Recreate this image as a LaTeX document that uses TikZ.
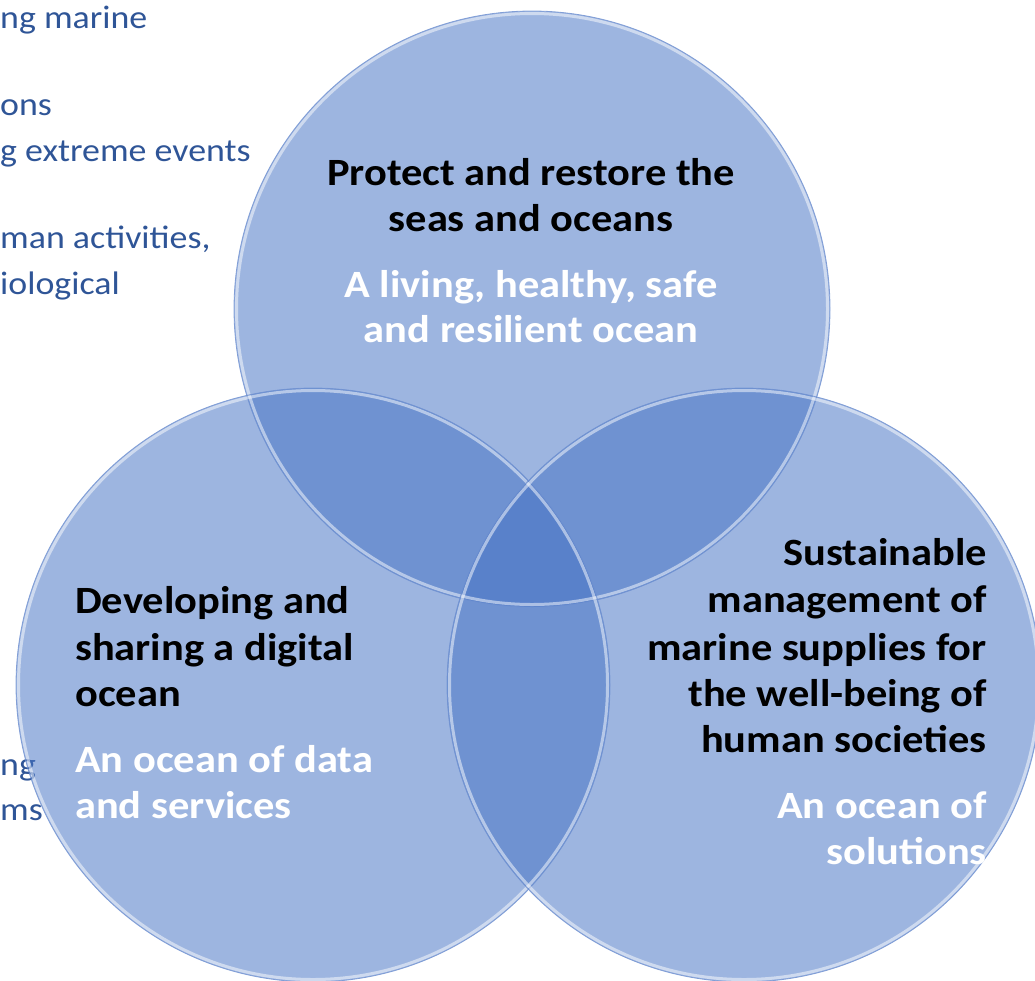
\documentclass[tikz,border=0pt]{standalone}
\usepackage{fontspec}
\setmainfont{Carlito}[FakeStretch=1.1]
\definecolor{circblue}{HTML}{4472C4}
\definecolor{rimblue}{HTML}{6F90D0}
\definecolor{sidetext}{HTML}{2F5597}
\begin{document}
\begin{tikzpicture}[x=1pt,y=-1pt,
  venn/.style={fill=circblue,fill opacity=0.52,draw=none},
  rimlight/.style={draw=white,draw opacity=0.5,line width=3pt},
  rimline/.style={draw=rimblue,draw opacity=0.8,line width=0.8pt},
  head/.style={font=\fontsize{38.6}{44}\selectfont\bfseries,text=black,inner sep=0pt},
  sub/.style={font=\fontsize{38.6}{44}\selectfont\bfseries,text=white,inner sep=0pt},
  side/.style={font=\fontsize{32.6}{38}\selectfont,text=sidetext,inner sep=0pt,anchor=base west}]
\useasboundingbox (0,0) rectangle (1035,980);
\clip (0,0) rectangle (1035,980);
% side text (cut at left)
\node[side] (s1) at (0,28) {ng marine};
\node[side] (s2) at (0,115) {ons};
\node[side] (s3) at (0,161) {g extreme events};
\node[side] (s4) at (0,248) {man activities,};
\node[side] (s5) at (0,294) {iological};
\node[side] (s6) at (0,775) {ng};
\node[side] (s7) at (0,820) {ms};
% circles
\coordinate (ct) at (532,309);
\coordinate (cl) at (313,685);
\coordinate (cr) at (744,685);
\fill[venn] (ct) circle (298);
\fill[venn] (cl) circle (297);
\fill[venn] (cr) circle (297);
\foreach \c/\r in {ct/298,cl/297,cr/297}{
  \draw[rimlight] (\c) circle (\r-2.5);
  \draw[rimline] (\c) circle (\r);
}
% top circle text
\node[head,anchor=base] (t1) at (531,185) {Protect and restore the};
\node[head,anchor=base] (t2) at (531,231) {seas and oceans};
\node[sub,anchor=base] (t3) at (531,297) {A living, healthy, safe};
\node[sub,anchor=base] (t4) at (531,342) {and resilient ocean};
% left circle text
\node[head,anchor=base west] (l1) at (75,613) {Developing and};
\node[head,anchor=base west] (l2) at (75,660) {sharing a digital};
\node[head,anchor=base west] (l3) at (75,706) {ocean};
\node[sub,anchor=base west] (l4) at (75,772) {An ocean of data};
\node[sub,anchor=base west] (l5) at (75,818) {and services};
% right circle text
\node[head,anchor=base east] (r1) at (987,565) {Sustainable};
\node[head,anchor=base east] (r2) at (987,612) {management of};
\node[head,anchor=base east] (r3) at (987,660) {marine supplies for};
\node[head,anchor=base east] (r4) at (987,706) {the well-being of};
\node[head,anchor=base east] (r5) at (987,752) {human societies};
\node[sub,anchor=base east] (r6) at (987,818) {An ocean of};
\node[sub,anchor=base east] (r7) at (987,864) {solutions};
\end{tikzpicture}
\end{document}
